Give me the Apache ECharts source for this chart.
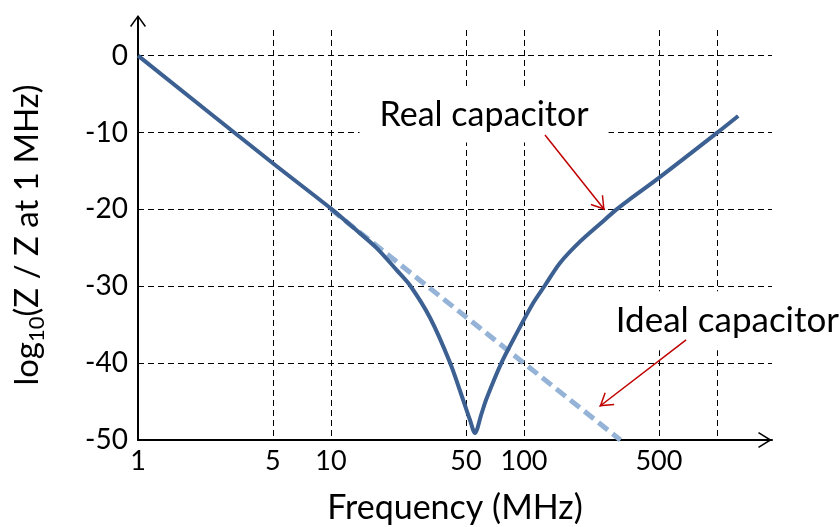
<!DOCTYPE html>
<html>
<head>
<meta charset="utf-8">
<script src="https://cdn.jsdelivr.net/npm/echarts@6/dist/echarts.min.js"></script>
<style>
html,body{margin:0;padding:0;background:#fff;}
#chart{width:840px;height:527px;}
</style>
</head>
<body>
<div id="chart"></div>
<script>
// ---- data (frequency in MHz, value = log10(Z / Z at 1 MHz)) ----
const realFreq = [1, 5, 10, 13.1, 17.2, 21.9, 25.7, 32.6, 41.3, 48.4, 52.5, 55.7, 60.2, 64.0, 76.6, 91.7, 111.4, 128.3, 153.3, 195, 250, 302, 346, 500, 1000, 1288];
const realVal  = [0, -14, -19.9, -22.4, -25.0, -27.9, -29.9, -34.1, -39.9, -44.8, -47.4, -49.1, -46.6, -44.6, -39.9, -36.1, -32.2, -29.9, -27.0, -24.2, -21.8, -20.0, -18.85, -15.9, -10.05, -7.85];
const idealFreq = [10, 316];
const idealVal  = [-20, -50];

const xGridTicks  = [1, 5, 10, 50, 100, 500, 1000];
const xLabelTicks = [1, 5, 10, 50, 100, 500];
const yTicks = [-50, -40, -30, -20, -10, 0];
const xMaxFreq = 1928;
const yMin = -50, yMax = 3.34;

// annotation arrows: [startFreq, startVal, endFreq, endVal]
const realArrow  = [128.5, -10.31, 262, -20.07];
const idealArrow = [692, -36.97, 246, -45.64];
// annotation labels: [freq, value, text]
const realLabel  = [62.1, -7.78, 'Real capacitor'];
const idealLabel = [1133, -34.5, 'Ideal capacitor'];

const FONT = 'Lato';
const lg = v => Math.log10(v);
const toXY = (fs, vs) => fs.map((f, i) => [lg(f), vs[i]]);

// open chevron arrow (tip at symbol centre thanks to invisible spacer)
const redArrowPath = 'path://M8 0 L16 12.5 L14.8 13.3 L8 2.8 L1.2 13.3 L0 12.5 Z M8 -13.3 L8.05 -13.3 L8 -13.25 Z';
const yAxisArrowPath = 'path://M8 0 L16 11 L14.8 11.9 L8 2.4 L1.2 11.9 L0 11 Z M7 1 L9 1 L9 15 L7 15 Z';
const xAxisArrowPath = 'path://M8 0 L16 13 L14.7 13.8 L8 3 L1.3 13.8 L0 13 Z';

const chart = echarts.init(document.getElementById('chart'), null, {renderer: 'canvas'});

const gridLine = {show: true, lineStyle: {color: '#000', width: 1, type: [6, 4]}};

const option = {
  animation: false,
  backgroundColor: '#fff',
  grid: {left: 138, right: 68, top: 30, bottom: 87, containLabel: false, outerBoundsMode: 'none'},
  xAxis: {
    type: 'value',
    min: 0,
    max: lg(xMaxFreq),
    name: 'Frequency (MHz)',
    nameLocation: 'middle',
    nameGap: 51,
    nameTextStyle: {fontFamily: FONT, fontSize: 34, color: '#000'},
    axisLine: {show: true, onZero: false, lineStyle: {color: '#000', width: 2},
      symbol: ['none', xAxisArrowPath], symbolSize: [16, 13.8], symbolOffset: [0, -7]},
    axisTick: {show: false, customValues: xGridTicks.map(lg)},
    splitLine: Object.assign({customValues: xGridTicks.map(lg)}, gridLine),
    axisLabel: {
      customValues: xLabelTicks.map(lg),
      fontFamily: FONT, fontSize: 27, color: '#000', margin: 8,
      formatter: v => String(Math.round(Math.pow(10, v)))
    }
  },
  yAxis: {
    type: 'value',
    min: yMin,
    max: yMax,
    name: '{a|log}{b|10}{a|(Z / Z at 1 MHz)}',
    nameLocation: 'middle',
    nameGap: 90,
    nameRotate: 90,
    nameTextStyle: {
      color: '#000',
      rich: {
        a: {fontFamily: FONT, fontSize: 33, lineHeight: 42, color: '#000'},
        b: {fontFamily: FONT, fontSize: 22, lineHeight: 42, verticalAlign: 'bottom', color: '#000'}
      }
    },
    axisLine: {show: true, onZero: false, lineStyle: {color: '#000', width: 2},
      symbol: ['none', yAxisArrowPath], symbolSize: [16, 15], symbolOffset: [0, 7.5]},
    axisTick: {show: false, customValues: yTicks},
    splitLine: Object.assign({customValues: yTicks.filter(v => v > yMin)}, gridLine),
    axisLabel: {
      customValues: yTicks,
      fontFamily: FONT, fontSize: 28, color: '#000', margin: 10
    }
  },
  series: [
    {
      name: 'Ideal capacitor',
      type: 'line',
      data: toXY(idealFreq, idealVal),
      showSymbol: false,
      symbol: 'none',
      lineStyle: {color: '#95B3D7', width: 5, type: [12, 6]},
      z: 2
    },
    {
      name: 'Real capacitor',
      type: 'line',
      data: toXY(realFreq, realVal),
      showSymbol: false,
      symbol: 'none',
      smooth: 0.3,
      lineStyle: {color: '#3B6091', width: 4},
      z: 3,
      markLine: {
        silent: true,
        animation: false,
        symbol: ['none', redArrowPath],
        symbolSize: [16, 26.6],
        label: {show: false},
        lineStyle: {color: '#C00000', width: 1.5, type: 'solid'},
        itemStyle: {color: '#C00000'},
        emphasis: {disabled: true},
        data: [
          [{coord: [lg(realArrow[0]), realArrow[1]]}, {coord: [lg(realArrow[2]), realArrow[3]]}],
          [{coord: [lg(idealArrow[0]), idealArrow[1]]}, {coord: [lg(idealArrow[2]), idealArrow[3]]}]
        ]
      }
    }
  ]
};
chart.setOption(option);

// annotation text boxes anchored in data coordinates
function labelGraphic(lbl, size, padV, padH) {
  const p = chart.convertToPixel({gridIndex: 0}, [lg(lbl[0]), lbl[1]]);
  return {
    type: 'text', x: p[0], y: p[1], z: 1, silent: true,
    style: {
      text: lbl[2], fontFamily: FONT, fontSize: size, fill: '#000',
      align: 'center', verticalAlign: 'middle',
      backgroundColor: '#fff', padding: [padV, padH]
    }
  };
}
chart.setOption({graphic: [labelGraphic(realLabel, 34, 10, 20), labelGraphic(idealLabel, 35, 12, 20)]});
</script>
</body>
</html>
